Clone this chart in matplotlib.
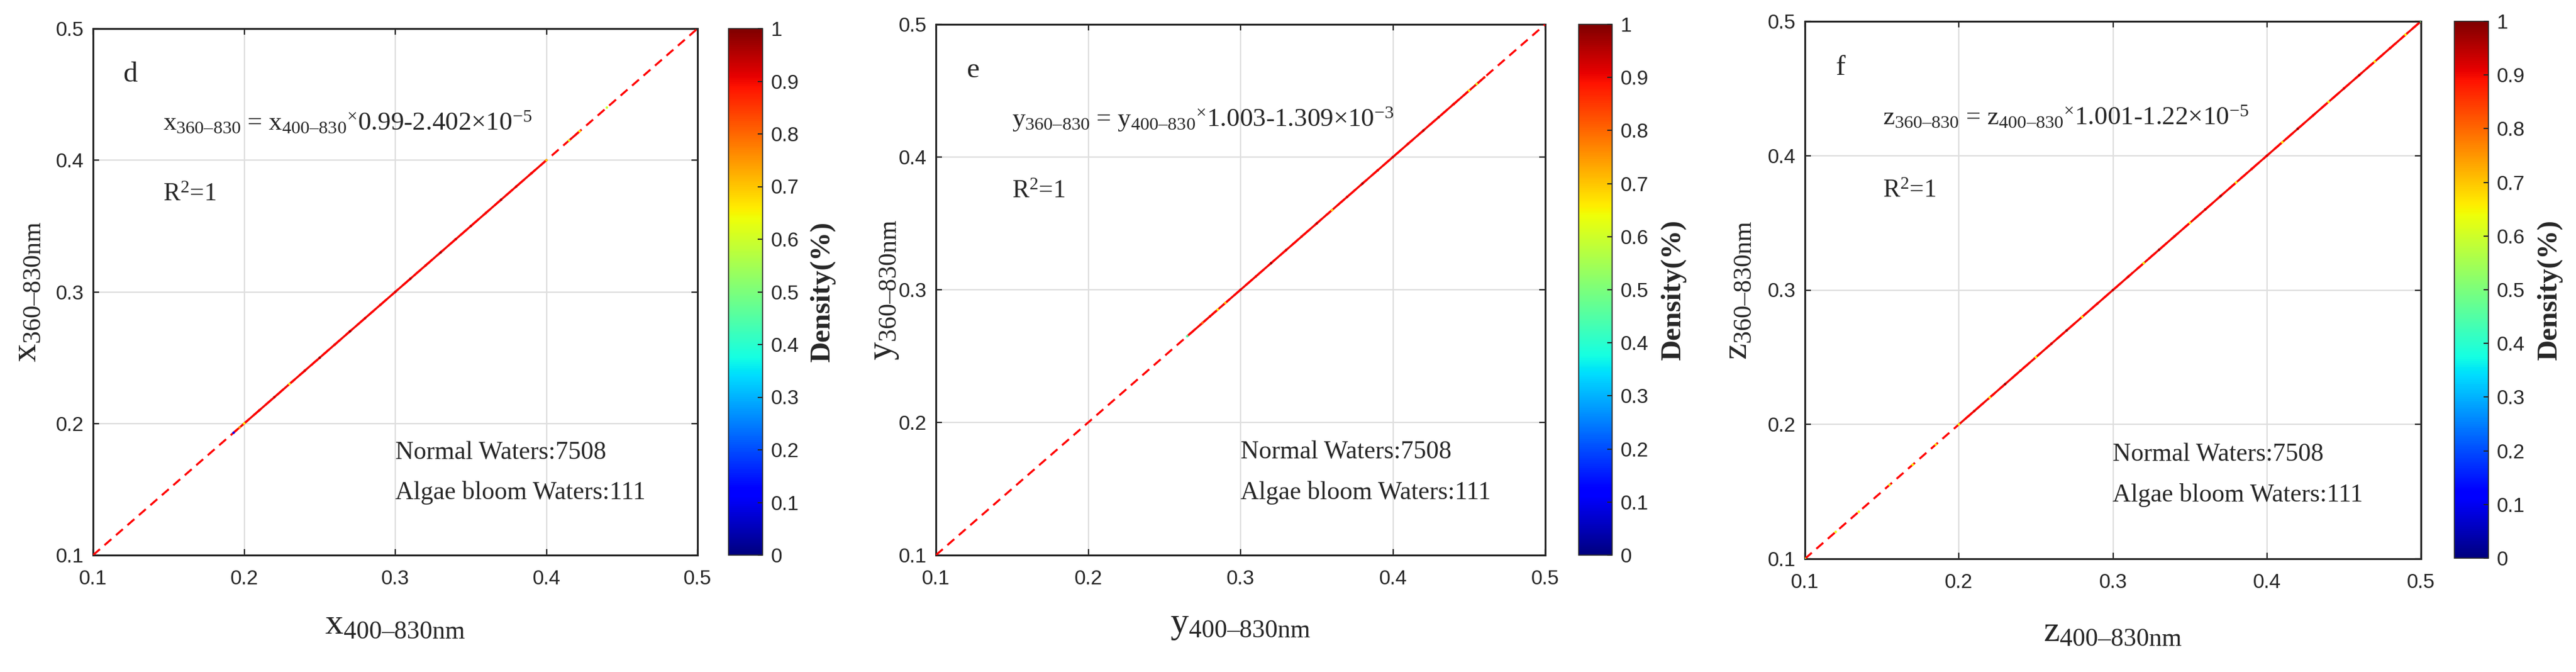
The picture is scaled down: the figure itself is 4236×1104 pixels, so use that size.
import matplotlib
matplotlib.use("Agg")
import matplotlib.pyplot as plt
from matplotlib.collections import LineCollection
from matplotlib.colors import Normalize

# ------------------------------------------------------------
# figure / style
# ------------------------------------------------------------
W_PX, H_PX, DPI = 4236, 1104, 100
AX_COLOR = '#262626'
GRID_COLOR = '#dedede'
SERIF = ['Liberation Serif', 'DejaVu Serif']
SANS = 'Liberation Sans'

plt.rcParams.update({
    'font.family': SERIF,
    'mathtext.fontset': 'custom',
    'mathtext.default': 'rm',
    'mathtext.rm': 'Liberation Serif',
    'mathtext.it': 'Liberation Serif:italic',
    'mathtext.bf': 'Liberation Serif:bold',
})

# ------------------------------------------------------------
# data
# ------------------------------------------------------------
AXIS_TICKS = [0.1, 0.2, 0.3, 0.4, 0.5]
DENSITY_TICKS = [0, 0.1, 0.2, 0.3, 0.4, 0.5, 0.6, 0.7, 0.8, 0.9, 1]
ONE_TO_ONE = [0.1, 0.5]

# panel d : x chromaticity
D_X = [0.193, 0.197, 0.20, 0.21, 0.22, 0.23, 0.24, 0.25, 0.26, 0.27, 0.28,
       0.29, 0.30, 0.31, 0.32, 0.33, 0.34, 0.35, 0.36, 0.37, 0.38, 0.39,
       0.40, 0.415, 0.422, 0.44]
D_Y = [0.193, 0.197, 0.20, 0.21, 0.22, 0.23, 0.24, 0.25, 0.26, 0.27, 0.28,
       0.29, 0.30, 0.31, 0.32, 0.33, 0.34, 0.35, 0.36, 0.37, 0.38, 0.39,
       0.40, 0.415, 0.422, 0.44]
D_DENS = [0.12, 0.75, 0.66, 0.90, 0.93, 0.65, 0.92, 0.97, 0.90, 0.98, 0.92,
          0.90, 0.93, 0.96, 0.90, 0.98, 0.92, 0.93, 0.90, 0.96, 0.92, 0.90,
          0.70, 0.62, 0.65, 0.60]

# panel e : y chromaticity
E_X = [0.265, 0.275, 0.28, 0.285, 0.29, 0.30, 0.31, 0.32, 0.33, 0.34, 0.35,
       0.36, 0.37, 0.38, 0.39, 0.40, 0.41, 0.42, 0.43, 0.44, 0.45, 0.455,
       0.46]
E_Y = [0.265, 0.275, 0.28, 0.285, 0.29, 0.30, 0.31, 0.32, 0.33, 0.34, 0.35,
       0.36, 0.37, 0.38, 0.39, 0.40, 0.41, 0.42, 0.43, 0.44, 0.45, 0.455,
       0.46]
E_DENS = [0.45, 0.80, 0.90, 0.66, 0.70, 0.93, 0.90, 0.97, 0.92, 0.90, 0.95,
          0.68, 0.92, 0.97, 0.90, 0.93, 0.90, 0.96, 0.92, 0.90, 0.66, 0.62,
          0.88]

# panel f : z chromaticity
F_X = [0.10, 0.12, 0.135, 0.155, 0.17, 0.185, 0.20, 0.21, 0.22, 0.23, 0.24,
       0.25, 0.26, 0.27, 0.28, 0.29, 0.30, 0.31, 0.32, 0.33, 0.34, 0.35, 0.36,
       0.37, 0.38, 0.39, 0.40, 0.41, 0.42, 0.43, 0.44, 0.45, 0.46, 0.47, 0.48,
       0.49, 0.50]
F_Y = [0.10, 0.12, 0.135, 0.155, 0.17, 0.185, 0.20, 0.21, 0.22, 0.23, 0.24,
       0.25, 0.26, 0.27, 0.28, 0.29, 0.30, 0.31, 0.32, 0.33, 0.34, 0.35, 0.36,
       0.37, 0.38, 0.39, 0.40, 0.41, 0.42, 0.43, 0.44, 0.45, 0.46, 0.47, 0.48,
       0.49, 0.50]
F_DENS = [0.62, 0.64, 0.66, 0.62, 0.65, 0.66, 0.64, 0.92, 0.66, 0.98, 0.90,
          0.65, 0.93, 0.97, 0.66, 0.90, 0.95, 0.92, 0.64, 0.97, 0.90, 0.66,
          0.93, 0.98, 0.65, 0.90, 0.93, 0.66, 0.97, 0.90, 0.64, 0.92, 0.96,
          0.66, 0.90, 0.65, 0.50]

LETTERS = ['d', 'e', 'f']
VARS = ['x', 'y', 'z']
EQUATIONS = [
    'x$_{360–830}$ = x$_{400–830}{}^{×}$0.99-2.402×10$^{-5}$',
    'y$_{360–830}$ = y$_{400–830}{}^{×}$1.003-1.309×10$^{-3}$',
    'z$_{360–830}$ = z$_{400–830}{}^{×}$1.001-1.22×10$^{-5}$',
]
N_NORMAL = 7508
N_BLOOM = 111

# ------------------------------------------------------------
# layout (pixel boxes measured on the reference: left, top, right, bottom)
# ------------------------------------------------------------
AX_BOX = [(153, 47, 1147, 912), (1539, 40, 2541, 912), (2968, 35, 3981, 918)]
CB_BOX = [(1198, 47, 1254, 912), (2596, 40, 2651, 912), (4036, 35, 4092, 917)]
YLABEL_RIGHT_PX = [72, 1481, 2885]
XLABEL_TOP_PX = [1000, 1000, 1012]
CBLABEL_LEFT_PX = [1332, 2731, 4172]
EQ_X = [0.116, 0.125, 0.126]


def fig_rect(box):
    l, t, r, b = box
    return [l / W_PX, 1 - b / H_PX, (r - l) / W_PX, (b - t) / H_PX]


def draw_panel(fig, i, xs, ys, dens):
    ax = fig.add_axes(fig_rect(AX_BOX[i]))
    cax = fig.add_axes(fig_rect(CB_BOX[i]))
    l, t, r, b = AX_BOX[i]
    norm = Normalize(0, 1)
    cmap = plt.cm.jet

    # dense cloud: join neighbouring samples so the core reads as a solid trace
    segs = [[(xs[k], ys[k]), (xs[k + 1], ys[k + 1])]
            for k in range(len(xs) - 1) if xs[k + 1] - xs[k] <= 0.011]
    ax.add_collection(LineCollection(segs, colors=[cmap(norm(0.9))],
                                     linewidths=2.4, zorder=2,
                                     capstyle='round'))
    # 1:1 line
    ax.plot(ONE_TO_ONE, ONE_TO_ONE, color='#ff0000', lw=2.4,
            dashes=(4.5, 3.0), zorder=3)
    sc = ax.scatter(xs, ys, c=dens, cmap=cmap, norm=norm, s=9,
                    linewidths=0, zorder=4)

    ax.set_xlim(0.1, 0.5)
    ax.set_ylim(0.1, 0.5)
    ax.set_xticks(AXIS_TICKS)
    ax.set_yticks(AXIS_TICKS)
    ax.set_xticklabels([f'{v:g}' for v in AXIS_TICKS])
    ax.set_yticklabels([f'{v:g}' for v in AXIS_TICKS])
    ax.set_axisbelow(True)
    ax.grid(True, color=GRID_COLOR, lw=1.6)
    for sp in ax.spines.values():
        sp.set_linewidth(2.2)
        sp.set_color(AX_COLOR)
    ax.tick_params(direction='in', length=7, width=1.6, colors=AX_COLOR,
                   top=True, right=True, labelsize=24,
                   labelfontfamily=SANS)
    ax.tick_params(axis='x', pad=17)
    ax.tick_params(axis='y', pad=11)

    v = VARS[i]
    ax.set_xlabel(f'{v}$_{{400–830nm}}$', fontsize=43, color=AX_COLOR)
    ax.set_ylabel(f'{v}$_{{360–830nm}}$', fontsize=43, color=AX_COLOR)
    ax.xaxis.set_label_coords(0.5, -(XLABEL_TOP_PX[i] - b) / (b - t))
    ax.yaxis.set_label_coords((YLABEL_RIGHT_PX[i] - l) / (r - l), 0.5)

    ax.text(0.05, 0.90, LETTERS[i], transform=ax.transAxes, fontsize=34,
            color=AX_COLOR)
    ax.text(EQ_X[i], 0.807, EQUATIONS[i], transform=ax.transAxes,
            fontsize=31, color=AX_COLOR, va='baseline')
    ax.text(EQ_X[i], 0.673, 'R$^{2}$=1', transform=ax.transAxes,
            fontsize=30, color=AX_COLOR, va='baseline')
    ax.text(0.50, 0.182, f'Normal Waters:{N_NORMAL}', transform=ax.transAxes,
            fontsize=30, color=AX_COLOR, va='baseline')
    ax.text(0.50, 0.106, f'Algae bloom Waters:{N_BLOOM}',
            transform=ax.transAxes, fontsize=30, color=AX_COLOR,
            va='baseline')

    # colour bar
    cb = fig.colorbar(sc, cax=cax, ticks=DENSITY_TICKS)
    cb.set_ticklabels([f'{v:g}' for v in DENSITY_TICKS])
    cb.outline.set_linewidth(1.2)
    cb.outline.set_edgecolor(AX_COLOR)
    cax.tick_params(direction='in', length=6, width=1.4, colors=AX_COLOR,
                    labelsize=24, pad=10, labelfontfamily=SANS)
    cb.set_label('Density(%)', fontsize=34, fontweight='bold',
                 color=AX_COLOR)
    cl, ct, cr, cbm = CB_BOX[i]
    cax.yaxis.set_label_coords((CBLABEL_LEFT_PX[i] - cl) / (cr - cl), 0.5)
    return ax


def main():
    fig = plt.figure(figsize=(W_PX / DPI, H_PX / DPI), dpi=DPI)
    data = [(D_X, D_Y, D_DENS), (E_X, E_Y, E_DENS), (F_X, F_Y, F_DENS)]
    for i, (xs, ys, dens) in enumerate(data):
        draw_panel(fig, i, xs, ys, dens)
    fig.savefig('out.png', dpi=DPI, facecolor='white')
    plt.close(fig)


if __name__ == '__main__':
    main()
